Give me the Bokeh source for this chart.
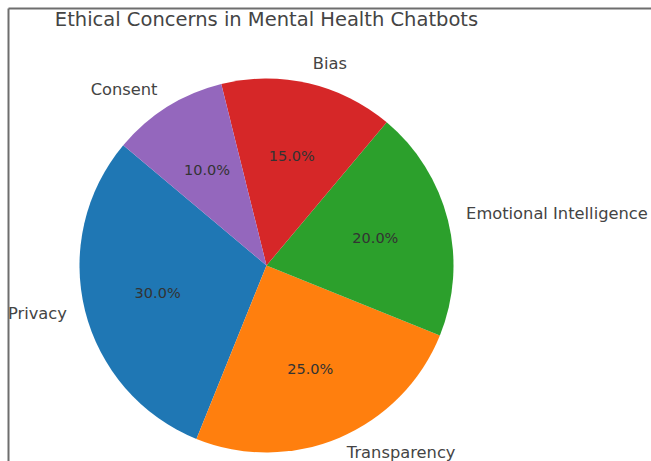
import math
from bokeh.plotting import figure
from bokeh.models import ColumnDataSource, Range1d
from bokeh.core.properties import value
from bokeh.embed import file_html
from bokeh.resources import INLINE

# Data
categories = ["Privacy", "Transparency", "Emotional Intelligence", "Bias", "Consent"]
shares = [30, 25, 20, 15, 10]
colors = ["#1f77b4", "#ff7f0e", "#2ca02c", "#d62728", "#9467bd"]
title_text = "Ethical Concerns in Mental Health Chatbots"

W, H = 651, 461
CX, CY, R = 266, H - 265, 187
START = 140.0  # degrees, counterclockwise like matplotlib

total = float(sum(shares))
starts, ends, mids = [], [], []
a = START
for s in shares:
    span = 360.0 * s / total
    starts.append(math.radians(a))
    ends.append(math.radians(a + span))
    mids.append(math.radians(a + span / 2))
    a += span

lx = [CX + 1.1 * R * math.cos(m) for m in mids]
ly = [CY + 1.1 * R * math.sin(m) for m in mids]
align = ["left" if math.cos(m) > 0 else "right" for m in mids]
px = [CX + 0.6 * R * math.cos(m) for m in mids]
py = [CY + 0.6 * R * math.sin(m) for m in mids]
pct = ["%.1f%%" % (100.0 * s / total) for s in shares]

src = ColumnDataSource(dict(cat=categories, start=starts, end=ends, color=colors,
                            lx=lx, ly=ly, align=align, px=px, py=py, pct=pct))

p = figure(width=W, height=H, x_range=Range1d(0, W), y_range=Range1d(0, H),
           output_backend="svg", toolbar_location=None, min_border=0)
p.axis.visible = False
p.grid.visible = False
p.outline_line_color = None
p.background_fill_color = "white"
p.border_fill_color = "white"

# frame lines (decoration: top and left edge of the screenshot)
p.segment(x0=[8, 8], y0=[H - 8, H - 8], x1=[W, 8], y1=[H - 8, 0],
          line_color="#6e6e6e", line_width=2)

p.wedge(x=CX, y=CY, radius=R, radius_units="screen", start_angle="start", end_angle="end",
        direction="anticlock", fill_color="color", line_color=None, source=src)

p.text(x="lx", y="ly", text="cat", text_align="align", text_baseline="middle",
       y_offset=-2, text_font_size="16.3px", text_color="#444444",
       text_font=value("DejaVu Sans"), source=src)
p.text(x="px", y="py", text="pct", text_align="center", text_baseline="middle",
       text_font_size="14.5px", text_color="#333333", text_font=value("DejaVu Sans"), source=src)

p.text(x=[CX], y=[H - 19], text=[title_text], text_align="center", text_baseline="middle",
       text_font_size="19.5px", text_color="#444444", text_font=value("DejaVu Sans"))

open("out.html", "w").write(file_html(p, INLINE))
